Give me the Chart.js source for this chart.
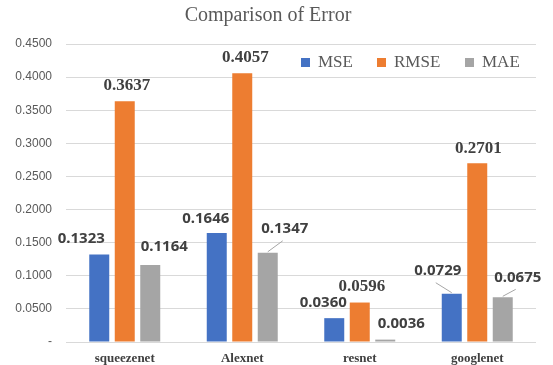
<!DOCTYPE html>
<html>
<head>
<title>Comparison of Error</title>
<script src="https://cdn.jsdelivr.net/npm/chart.js"></script>
<style>
  body{ margin:0; background:#fff; }
  #wrap{ width:553px; height:365px; }
</style>
</head>
<body>
<div id="wrap"><canvas id="myChart"></canvas></div>
<script>
const models = ['squeezenet', 'Alexnet', 'resnet', 'googlenet'];
const mse  = [0.1323, 0.1646, 0.0360, 0.0729];
const rmse = [0.3637, 0.4057, 0.0596, 0.2701];
const mae  = [0.1164, 0.1347, 0.0036, 0.0675];

// where each value label sits relative to the top of its bar (Excel moved some of them)
const labelOffsets = [
  [[-18, 16], [-11, 14], [-11, 15], [-14, 23, true]],
  [[2, 16], [3, 16], [2, 16], [1, 15]],
  [[14, 18], [17, 24, true], [16, 16], [15, 20, true]]
];
const labelFonts = [
  'bold 15px "Noto Sans", sans-serif',
  'bold 17px "Liberation Serif", serif',
  'bold 15px "Noto Sans", sans-serif'
];

const valueLabels = {
  id: 'valueLabels',
  afterDatasetsDraw(chart) {
    const ctx = chart.ctx;
    chart.data.datasets.forEach((ds, di) => {
      chart.getDatasetMeta(di).data.forEach((bar, i) => {
        const off = labelOffsets[di][i];
        const lx = bar.x + off[0], ly = bar.y - off[1];
        ctx.save();
        if (off[2]) {
          ctx.strokeStyle = '#a6a6a6';
          ctx.lineWidth = 1;
          ctx.beginPath();
          ctx.moveTo(bar.x, bar.y - 1);
          ctx.lineTo(lx - 2, ly + 12);
          ctx.stroke();
        }
        ctx.font = labelFonts[di];
        ctx.fillStyle = '#404040';
        ctx.textAlign = 'center';
        ctx.textBaseline = 'middle';
        ctx.fillText(ds.data[i].toFixed(4), lx, ly);
        ctx.restore();
      });
    });
  }
};

// legend sits inside the plot, top right
const innerLegend = {
  id: 'innerLegend',
  afterDraw(chart) {
    const ctx = chart.ctx;
    const xs = [301, 377, 465];
    const y = 63;
    ctx.save();
    ctx.font = '17px "Liberation Serif", serif';
    ctx.textBaseline = 'middle';
    chart.data.datasets.forEach((ds, i) => {
      ctx.fillStyle = ds.backgroundColor;
      ctx.fillRect(xs[i], y - 5, 9, 9);
      ctx.fillStyle = '#595959';
      ctx.fillText(ds.label, xs[i] + 17, y);
    });
    ctx.restore();
  }
};

new Chart(document.getElementById('myChart'), {
  type: 'bar',
  data: {
    labels: models,
    datasets: [
      { label: 'MSE',  data: mse,  backgroundColor: '#4472C4' },
      { label: 'RMSE', data: rmse, backgroundColor: '#ED7D31' },
      { label: 'MAE',  data: mae,  backgroundColor: '#A5A5A5' }
    ]
  },
  options: {
    responsive: true,
    maintainAspectRatio: false,
    animation: false,
    datasets: { bar: { categoryPercentage: 0.651, barPercentage: 0.784 } },
    layout: { padding: { left: 0, right: 17, top: 0, bottom: 0 } },
    plugins: {
      legend: { display: false },
      tooltip: { enabled: false },
      title: {
        display: true,
        text: 'Comparison of Error',
        color: '#595959',
        font: { family: '"Liberation Serif", serif', size: 20, weight: 'normal' },
        padding: { top: 4, bottom: 16 }
      }
    },
    scales: {
      x: {
        grid: { display: false, drawTicks: false },
        border: { display: false },
        ticks: {
          color: '#404040',
          padding: 9,
          font: { family: '"Liberation Serif", serif', size: 13, weight: 'bold' }
        },
        afterFit(scale) { scale.height = 23; }
      },
      y: {
        min: 0,
        max: 0.45,
        grid: { color: '#d9d9d9', drawTicks: false },
        border: { display: false },
        ticks: {
          stepSize: 0.05,
          color: '#595959',
          padding: 14,
          font: { family: '"Liberation Sans", sans-serif', size: 12 },
          callback: v => v === 0 ? '-' : v.toFixed(4)
        },
        afterFit(scale) { scale.width = 66; }
      }
    }
  },
  plugins: [valueLabels, innerLegend]
});
</script>
</body>
</html>
